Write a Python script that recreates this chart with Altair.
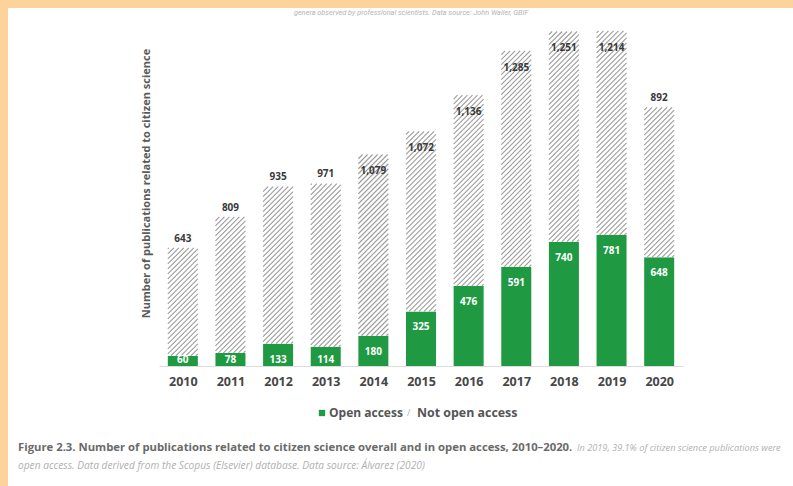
import altair as alt
import pandas as pd

# ---------------- data ----------------
years = [2010, 2011, 2012, 2013, 2014, 2015, 2016, 2017, 2018, 2019, 2020]
open_access = [60, 78, 133, 114, 180, 325, 476, 591, 740, 781, 648]
not_open_access = [643, 809, 935, 971, 1079, 1072, 1136, 1285, 1251, 1214, 892]
inside_label_years = [2014, 2015, 2016, 2017, 2018, 2019]

series = ["Open access", "Not open access"]

# ---------------- layout constants ----------------
WIDTH, HEIGHT = 524, 336
PAD_L, PAD_T = 159, 30
X_MIN, X_MAX = 2009.5, 2020.5
Y_MAX = 2000
PX_PER_YEAR = WIDTH / (X_MAX - X_MIN)
PX_PER_UNIT = HEIGHT / Y_MAX
HALF_W_PX = 15
HATCH_SPACING = 5
GREEN = "#1f9a43"
FONT = "Open Sans"
CAPFONT = "Open Sans"

half_w = HALF_W_PX / PX_PER_YEAR

seg_rows = []
lab_rows = []
for yr, o, n in zip(years, open_access, not_open_access):
    seg_rows.append(dict(year=yr, series=series[0], x=yr - half_w, x2=yr + half_w, y=0, y2=o))
    seg_rows.append(dict(year=yr, series=series[1], x=yr - half_w, x2=yr + half_w, y=o, y2=o + n))
    lab_rows.append(dict(year=yr, open=o, notopen=n, top=o + n,
                         inside=1 if yr in inside_label_years else 0))
segs = pd.DataFrame(seg_rows)
labs = pd.DataFrame(lab_rows)

# hatch lines (45 degrees) computed from each bar's extent, in data units
hatch_rows = []
w_px = 2 * HALF_W_PX
for yr, o, n in zip(years, open_access, not_open_access):
    x0 = yr - half_w
    h_px = n * PX_PER_UNIT
    t = -w_px + 2
    while t < h_px:
        u0 = max(0.0, -t)
        u1 = min(w_px, h_px - t)
        if u1 > u0 + 0.3:
            hatch_rows.append(dict(
                x=x0 + u0 / PX_PER_YEAR, x2=x0 + u1 / PX_PER_YEAR,
                y=o + (u0 + t) / PX_PER_UNIT, y2=o + (u1 + t) / PX_PER_UNIT))
        t += HATCH_SPACING
hatch = pd.DataFrame(hatch_rows)

xscale = alt.Scale(domain=[X_MIN, X_MAX], nice=False, zero=False)
yscale = alt.Scale(domain=[0, Y_MAX], nice=False)

one = alt.Data(values=[{"k": 0}])

# white page behind the chart
page = alt.Chart(one).mark_rect(color="white").encode(
    x=alt.value(-PAD_L + 8), x2=alt.value(793 - PAD_L),
    y=alt.value(-PAD_T + 8), y2=alt.value(486 - PAD_T),
)

bars = alt.Chart(segs).mark_rect().encode(
    x=alt.X("x:Q", scale=xscale,
            axis=alt.Axis(values=years, format="d", title=None, ticks=False, grid=False,
                          domain=True, domainColor="#dcdcdc", domainWidth=1.2, zindex=2,
                          labelFont=FONT, labelFontSize=12.5, labelFontWeight="bold",
                          labelColor="#474747", labelPadding=9)),
    x2="x2:Q",
    y=alt.Y("y:Q", scale=yscale,
            axis=alt.Axis(title="Number of publications related to citizen science",
                          labels=False, ticks=False, domain=False, grid=False, zindex=2,
                          titleFont=FONT, titleFontSize=11, titleFontWeight="bold",
                          titleColor="#5a5a5a", titleX=-13, titleY=153,
                          titleAngle=270, titleAlign="center", titleBaseline="middle")),
    y2="y2:Q",
    color=alt.Color("series:N", scale=alt.Scale(domain=series, range=[GREEN, "#ffffff"]),
                    legend=None),
)

hatch_layer = alt.Chart(hatch).mark_rule(color="#9c9c9c", strokeWidth=1.1).encode(
    x=alt.X("x:Q", scale=xscale), x2="x2:Q",
    y=alt.Y("y:Q", scale=yscale), y2="y2:Q",
)

open_labels = alt.Chart(labs).transform_calculate(
    ly="max(datum.open - 95, 36)"
).mark_text(font=FONT, fontSize=10, fontWeight="bold", color="white", baseline="middle").encode(
    x=alt.X("year:Q", scale=xscale),
    y=alt.Y("ly:Q", scale=yscale),
    text=alt.Text("open:Q", format=",d"),
)

top_labels = alt.Chart(labs).transform_calculate(
    ly="datum.inside == 1 ? datum.top - 100 : datum.top + 55"
).mark_text(font=FONT, fontSize=10, fontWeight="bold", color="#3a3a3a", baseline="middle").encode(
    x=alt.X("year:Q", scale=xscale),
    y=alt.Y("ly:Q", scale=yscale),
    text=alt.Text("notopen:Q", format=",d"),
)

def txt(text, x, y, **kw):
    return alt.Chart(one).mark_text(align="left", baseline="middle", **kw).encode(
        x=alt.value(x), y=alt.value(y), text=alt.value(text))

legend_sq = alt.Chart(one).mark_square(color=GREEN, size=40, opacity=1).encode(
    x=alt.value(322 - PAD_L), y=alt.value(413 - PAD_T))
legend_t1 = txt("Open access", 329 - PAD_L, 413 - PAD_T, font=FONT, fontSize=12,
                fontWeight="bold", color="#555555")
legend_sl = txt("/", 407 - PAD_L, 413 - PAD_T, font=FONT, fontSize=9, color="#aaaaaa")
legend_t2 = txt("Not open access", 417 - PAD_L, 413 - PAD_T, font=FONT, fontSize=12.4,
                fontWeight="bold", color="#555555")

cap1 = txt("Figure 2.3. Number of publications related to citizen science overall and in open access, 2010–2020.",
           18 - PAD_L, 448 - PAD_T, font=CAPFONT, fontSize=11.3, fontWeight="bold", color="#6a6a6a")
cap1b = txt("In 2019, 39.1% of citizen science publications were",
            577 - PAD_L, 448 - PAD_T, font=CAPFONT, fontSize=9.2, fontStyle="italic", color="#b0b0b0")
cap2 = txt("open access. Data derived from the Scopus (Elsevier) database. Data source: Álvarez (2020)",
           18 - PAD_L, 466 - PAD_T, font=CAPFONT, fontSize=10.2, fontStyle="italic", color="#b0b0b0")
toptxt = txt("genera observed by professional scientists. Data source: John Waller, GBIF",
             294 - PAD_L, 13 - PAD_T, font="Roboto", fontSize=7.3, fontStyle="italic", color="#b4b4b4")

chart = alt.layer(
    page, bars, hatch_layer, open_labels, top_labels,
    legend_sq, legend_t1, legend_sl, legend_t2, cap1, cap1b, cap2, toptxt
).properties(
    width=WIDTH, height=HEIGHT,
    padding={"left": PAD_L, "top": PAD_T, "right": 793 - PAD_L - WIDTH, "bottom": 486 - PAD_T - HEIGHT},
    autosize=alt.AutoSizeParams(type="none"),
    background="#fbd39b",
).configure_view(stroke=None)

chart.save("out.html", embed_options={"renderer": "svg", "actions": False})
